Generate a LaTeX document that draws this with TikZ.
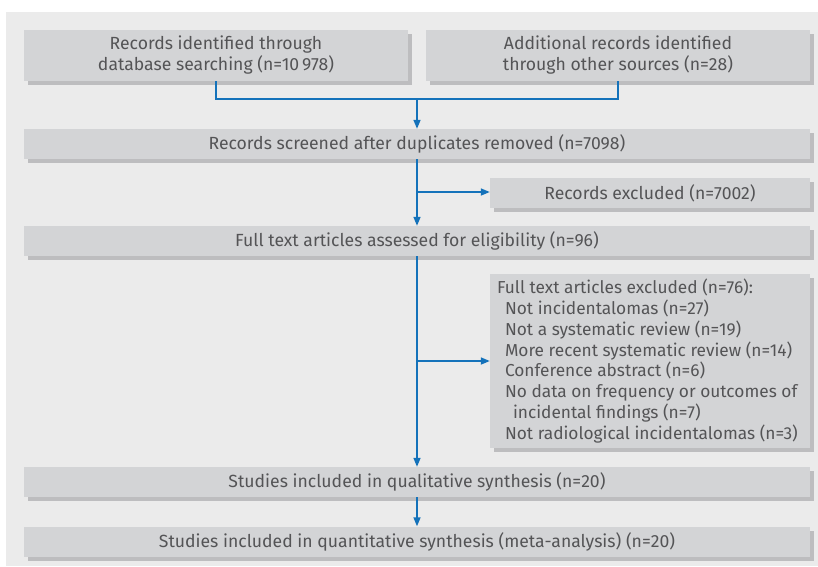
\documentclass[tikz,border=0pt]{standalone}
\usepackage{fontspec}
\setmainfont{Fira Sans}
\usetikzlibrary{arrows.meta,shadows}
\definecolor{bgc}{HTML}{EBEBEB}
\definecolor{boxc}{HTML}{D3D4D6}
\definecolor{shc}{HTML}{BDBDBF}
\definecolor{txc}{HTML}{545456}
\definecolor{arc}{HTML}{1472BA}
\begin{document}
\begin{tikzpicture}[x=1pt,y=-1pt,
  box/.style={fill=boxc, text=txc, inner sep=0pt, align=center,
    drop shadow={shadow xshift=4pt, shadow yshift=-4pt, fill=shc, opacity=1}},
  conn/.style={draw=arc, line width=1.6pt},
  arr/.style={conn, -{Triangle[length=9pt,width=7pt]}},
  font=\fontsize{17.6}{21}\selectfont]
\useasboundingbox (0,0) rectangle (818,566);
\fill[white] (0,0) rectangle (818,566);
\fill[bgc] (6,12) rectangle (818,566);

\node[box, minimum width=384pt, minimum height=51pt] (b1) at (216,55.5)
  {Records identified through\\database searching (n=10\,978)};
\node[box, minimum width=384pt, minimum height=51pt] (b2) at (618,55.5)
  {Additional records identified\\through other sources (n=28)};
\node[box, minimum width=786pt, minimum height=30pt] (b3) at (417,144)
  {Records screened after duplicates removed (n=7098)};
\node[box, minimum width=320pt, minimum height=30pt] (rx) at (650,193)
  {Records excluded (n=7002)};
\node[box, minimum width=786pt, minimum height=30pt] (b4) at (417,241)
  {Full text articles assessed for eligibility (n=96)};
\node[box, minimum width=320pt, minimum height=174pt] (fx) at (650,361) {};
\node[anchor=west, text=txc, inner sep=0pt, align=left,
      font=\fontsize{17.3}{20.8}\selectfont] (fxt) at ([xshift=7pt]fx.west)
  {Full text articles excluded (n=76):\\
   \hspace*{8pt}Not incidentalomas (n=27)\\
   \hspace*{8pt}Not a systematic review (n=19)\\
   \hspace*{8pt}More recent systematic review (n=14)\\
   \hspace*{8pt}Conference abstract (n=6)\\
   \hspace*{8pt}No data on frequency or outcomes of\\
   \hspace*{16pt}incidental findings (n=7)\\
   \hspace*{8pt}Not radiological incidentalomas (n=3)};
\node[box, minimum width=786pt, minimum height=30pt] (b5) at (417,482)
  {Studies included in qualitative synthesis (n=20)};
\node[box, minimum width=786pt, minimum height=30pt] (b6) at (417,541.5)
  {Studies included in quantitative synthesis (meta-analysis) (n=20)};

\coordinate (j) at (417,99);
\coordinate (j2) at (417,192);
\coordinate (j3) at (417,361);
\draw[conn] (b1.south) |- (j);
\draw[conn] (b2.south) |- (j);
\draw[arr] (j) -- (b3.north);
\draw[arr] (b3.south) -- (b4.north);
\draw[arr] (j2) -- (rx.west |- j2);
\draw[arr] (b4.south) -- (b5.north);
\draw[arr] (j3) -- (fx.west |- j3);
\draw[arr] (b5.south) -- (b6.north);
\end{tikzpicture}
\end{document}
